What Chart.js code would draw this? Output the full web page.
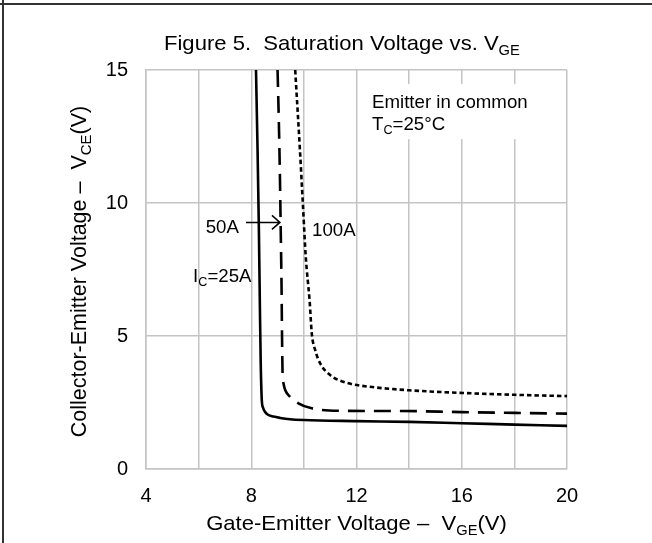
<!DOCTYPE html>
<html lang="en">
<head>
<meta charset="UTF-8">
<title>Figure 5. Saturation Voltage vs. VGE</title>
<script src="https://cdn.jsdelivr.net/npm/chart.js@4"></script>
<style>
  html, body { margin: 0; padding: 0; background: #fff; }
  #wrap { width: 652px; height: 543px; }
</style>
</head>
<body>
<div id="wrap"><canvas id="chart" width="652" height="543"></canvas></div>
<script>
  // curves: VGE (V) -> VCE (V)
  const vge25  = [8.18, 8.24, 8.29, 8.33, 8.36, 8.40, 8.45, 8.52, 8.65, 8.84, 9.10, 9.47, 10.0, 12.0, 14.0, 16.0, 18.0, 20.0];
  const vce25  = [15, 12, 9, 6, 4, 2.6, 2.3, 2.15, 2.03, 1.97, 1.92, 1.87, 1.84, 1.80, 1.77, 1.72, 1.67, 1.62];

  const vge50  = [9.00, 9.05, 9.09, 9.12, 9.15, 9.17, 9.19, 9.23, 9.29, 9.47, 9.79, 10.3, 11.4, 13.7, 16.0, 18.0, 20.0];
  const vce50  = [15, 13, 11, 9, 7, 5, 3.6, 3.2, 2.97, 2.72, 2.47, 2.28, 2.19, 2.18, 2.14, 2.11, 2.08];

  const vge100 = [9.67, 9.85, 9.96, 10.07, 10.22, 10.30, 10.43, 10.62, 11.0, 11.63, 12.6, 14.0, 16.0, 18.0, 20.0];
  const vce100 = [15, 12, 10, 8, 6.3, 5.1, 4.47, 3.97, 3.53, 3.24, 3.08, 2.96, 2.86, 2.79, 2.74];

  const xMin = 4, xMax = 20, xStep = 2, xLabelEvery = 4;
  const yMin = 0, yMax = 15, yStep = 5;

  const FONT = '"Liberation Sans", Arial, sans-serif';
  const GRID = '#c4c4c4';
  const SX = 1.05; // text in the scan is a little wider than tall

  const pts = (xs, ys) => xs.map((v, i) => ({ x: v, y: ys[i] }));

  // text with subscripts, parts = [[text, isSub], ...]
  // align: 'left' | 'center' | 'right', y is the baseline (middle if mid=true)
  function rich(ctx, parts, x, y, size, align, sx, mid) {
    const sub = Math.round(size * 0.68);
    let w = 0;
    parts.forEach(([t, s]) => {
      ctx.font = (s ? sub : size) + 'px ' + FONT;
      w += ctx.measureText(t).width;
    });
    ctx.save();
    ctx.translate(x, y + (mid ? size * 0.36 : 0));
    ctx.scale(sx, 1);
    let px = align === 'center' ? -w / 2 : align === 'right' ? -w : 0;
    ctx.textBaseline = 'alphabetic';
    ctx.textAlign = 'left';
    parts.forEach(([t, s]) => {
      ctx.font = (s ? sub : size) + 'px ' + FONT;
      ctx.fillText(t, px, s ? size * 0.24 : 0);
      px += ctx.measureText(t).width;
    });
    ctx.restore();
  }

  const decor = {
    id: 'decor',
    beforeDatasetsDraw(chart) {
      const { ctx, scales: { x, y } } = chart;
      // white patch behind the condition note
      const l = x.getPixelForValue(12.32), r = x.getPixelForValue(19.17);
      const t = y.getPixelForValue(14.47), b = y.getPixelForValue(12.40);
      ctx.save();
      ctx.fillStyle = '#fff';
      ctx.fillRect(l, t, r - l, b - t);
      ctx.restore();
    },
    afterDraw(chart) {
      const { ctx, scales: { x, y }, chartArea: a } = chart;
      ctx.save();

      // frame lines (top and left)
      ctx.fillStyle = '#333';
      ctx.fillRect(0, 3, 652, 2);
      ctx.fillRect(2, 0, 2, 543);

      ctx.fillStyle = '#000';
      ctx.strokeStyle = '#000';

      // title
      rich(ctx, [['Figure 5.  Saturation Voltage vs. V', false], ['GE', true]], 164, 50, 21, 'left', SX);

      // axis titles
      rich(ctx, [['Gate-Emitter Voltage \u2013  V', false], ['GE', true], ['(V)', false]],
        (a.left + a.right) / 2, 530, 21, 'center', SX);
      ctx.save();
      ctx.translate(86, (a.top + a.bottom) / 2 + 2);
      ctx.rotate(-Math.PI / 2);
      rich(ctx, [['Collector-Emitter Voltage \u2013  V', false], ['CE', true], ['(V)', false]], 0, 0, 21.5, 'center', 1);
      ctx.restore();

      // curve labels
      const fs = 17.8;
      rich(ctx, [['50A', false]], x.getPixelForValue(7.53), y.getPixelForValue(9.12), fs, 'right', SX, true);
      rich(ctx, [['100A', false]], x.getPixelForValue(10.31), y.getPixelForValue(9.01), fs, 'left', SX, true);
      rich(ctx, [['I', false], ['C', true], ['=25A', false]], x.getPixelForValue(5.79), y.getPixelForValue(7.27), fs, 'left', SX, true);

      // conditions note
      rich(ctx, [['Emitter in common', false]], x.getPixelForValue(12.59), y.getPixelForValue(13.83), fs, 'left', SX, true);
      rich(ctx, [['T', false], ['C', true], ['=25\u00B0C', false]], x.getPixelForValue(12.59), y.getPixelForValue(13.0), fs, 'left', SX, true);

      // arrow to the 50A curve
      const ax0 = x.getPixelForValue(7.80), ax1 = x.getPixelForValue(9.09), ay = y.getPixelForValue(9.27);
      ctx.lineWidth = 1.5;
      ctx.beginPath();
      ctx.moveTo(ax0, ay);
      ctx.lineTo(ax1, ay);
      ctx.moveTo(ax1 - 8, ay - 7);
      ctx.lineTo(ax1, ay);
      ctx.lineTo(ax1 - 8, ay + 7);
      ctx.stroke();
      ctx.restore();
    }
  };

  const line = (data, dash) => ({
    data,
    borderColor: '#000',
    borderWidth: 2.6,
    borderDash: dash,
    pointRadius: 0,
    cubicInterpolationMode: 'monotone',
    fill: false
  });

  new Chart(document.getElementById('chart'), {
    type: 'line',
    data: {
      datasets: [
        line(pts(vge25, vce25), []),
        line(pts(vge50, vce50), [17, 9]),
        line(pts(vge100, vce100), [4.5, 3])
      ]
    },
    options: {
      responsive: false,
      devicePixelRatio: 1,
      animation: false,
      layout: { padding: { top: 70, right: 85, bottom: 0, left: 0 } },
      plugins: { legend: { display: false }, tooltip: { enabled: false } },
      scales: {
        x: {
          type: 'linear',
          min: xMin, max: xMax,
          afterFit(s) { s.height = 74; },
          grid: { color: GRID, lineWidth: 1.5, drawTicks: false },
          border: { color: GRID, width: 1.5 },
          ticks: {
            stepSize: xStep,
            padding: 15,
            color: '#000',
            font: { family: FONT, size: 20 },
            maxRotation: 0,
            autoSkip: false,
            callback: v => (v % xLabelEvery === 0 ? v : '')
          }
        },
        y: {
          min: yMin, max: yMax,
          afterFit(s) { s.width = 146; },
          grid: { color: GRID, lineWidth: 1.5, drawTicks: false },
          border: { color: GRID, width: 1.5 },
          ticks: {
            stepSize: yStep,
            padding: 18,
            color: '#000',
            font: { family: FONT, size: 20 }
          }
        }
      }
    },
    plugins: [decor]
  });
</script>
</body>
</html>
